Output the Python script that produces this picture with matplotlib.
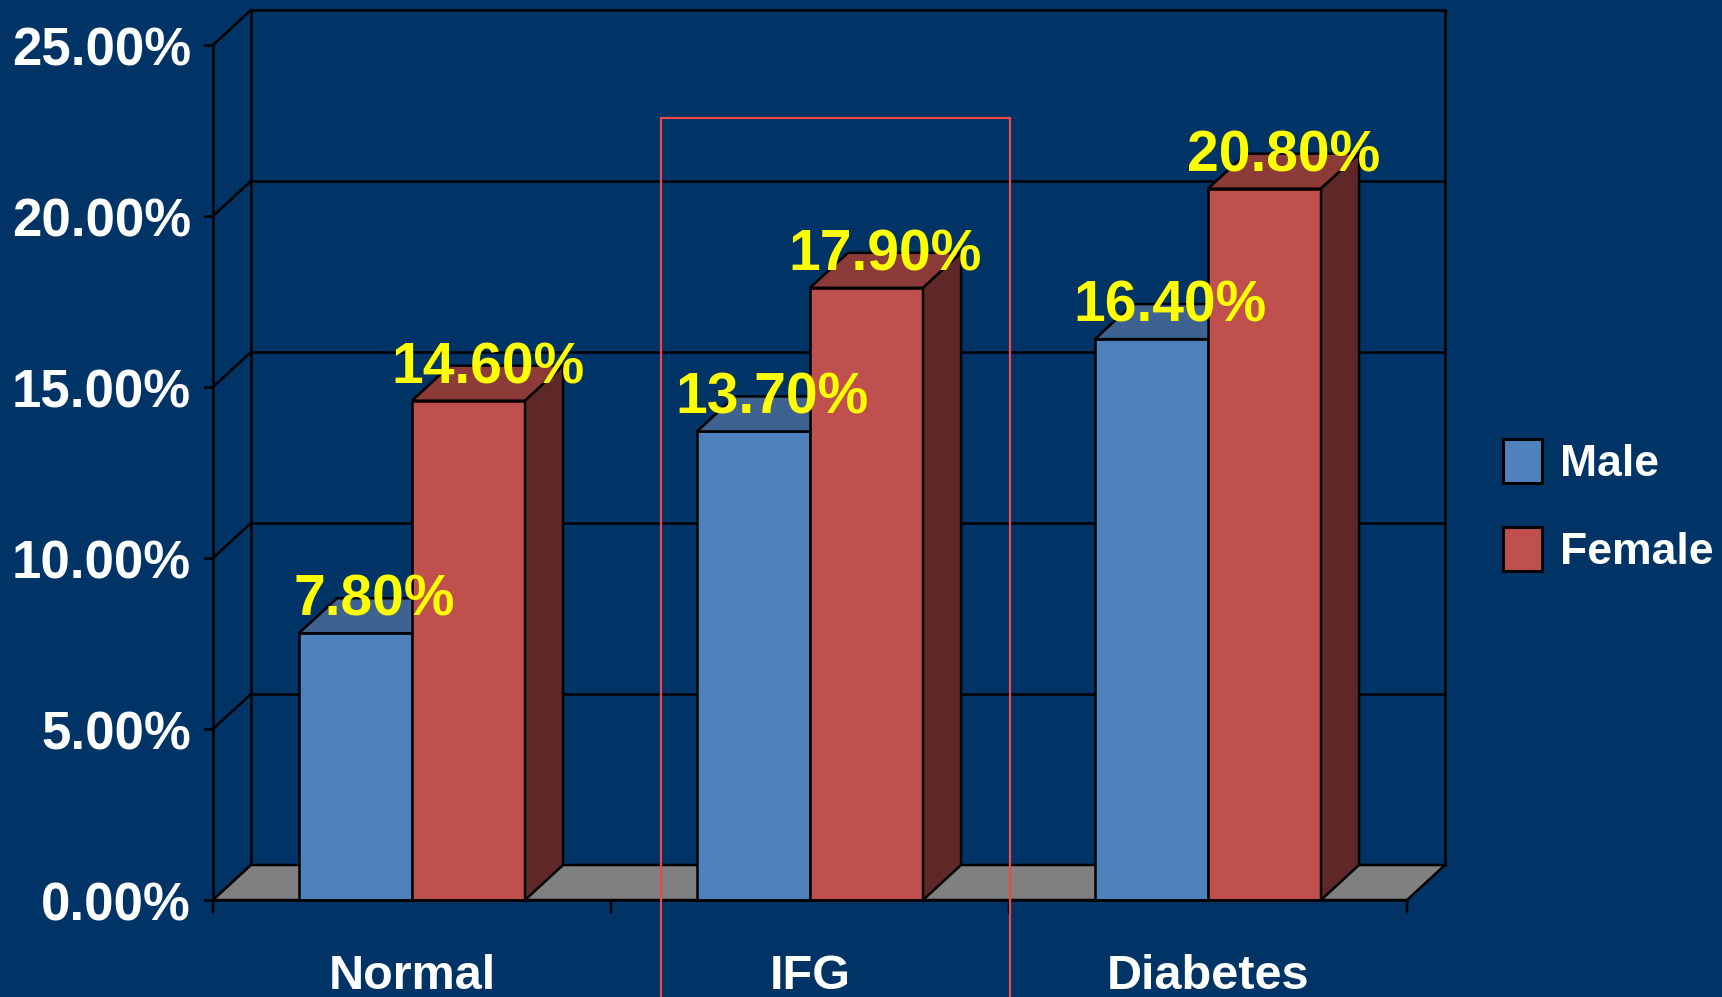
import matplotlib.pyplot as plt
from matplotlib.patches import Polygon, Rectangle, Patch

# data
categories = ['Normal', 'IFG', 'Diabetes']
male = [7.8, 13.7, 16.4]
female = [14.6, 17.9, 20.8]
series_names = ['Male', 'Female']
yticks = [0, 5, 10, 15, 20, 25]

# colours
bg = '#003366'
male_front, male_top = '#4F81BD', '#3E6390'
fem_front, fem_top, fem_side = '#C0504D', '#8C3B39', '#5E2828'
floor_col = '#808080'
lw = 1.8

plt.rcParams['font.family'] = ['Liberation Sans', 'DejaVu Sans']
plt.rcParams['font.weight'] = 'bold'

fig = plt.figure(figsize=(17.22, 9.97), dpi=100, facecolor=bg)
ax = fig.add_axes([213 / 1722, 97 / 997, 1194 / 1722, 855 / 997])
ax.set_xlim(-0.5, 2.5)
ax.set_ylim(0, 25)
ax.axis('off')

# fake 3d depth in data units
DX = 38 / 398
DY = 35 / 34.2
bw = 0.284  # bar width


def poly(pts, fc, z, ec='black'):
    ax.add_patch(Polygon(pts, closed=True, facecolor=fc, edgecolor=ec,
                         lw=lw, zorder=z, clip_on=False, joinstyle='miter'))


def line(xs, ys, z=1, **kw):
    ax.plot(xs, ys, color='black', lw=lw, zorder=z, clip_on=False,
            solid_capstyle='projecting', **kw)


x0, x1 = -0.5, len(categories) - 0.5

# back wall grid + side wall
for t in yticks:
    line([x0 + DX, x1 + DX], [t + DY, t + DY])
    line([x0, x0 + DX], [t, t + DY])
    line([x0 - 0.02, x0], [t, t])
line([x0 + DX, x0 + DX], [DY, yticks[-1] + DY])
line([x1 + DX, x1 + DX], [DY, yticks[-1] + DY])
line([x0, x0], [0, yticks[-1]])

# floor
poly([(x0, 0), (x1, 0), (x1 + DX, DY), (x0 + DX, DY)], floor_col, 2)

# bars
for i, (m, f) in enumerate(zip(male, female)):
    for j, (v, front, top) in enumerate([(m, male_front, male_top),
                                          (f, fem_front, fem_top)]):
        left = i - bw + j * bw
        right = left + bw
        z = 3 + j
        poly([(left, 0), (right, 0), (right, v), (left, v)], front, z)
        poly([(left, v), (right, v), (right + DX, v + DY), (left + DX, v + DY)], top, z)
        if j == 1:
            poly([(right, 0), (right + DX, DY), (right + DX, v + DY), (right, v)], fem_side, z)
        ax.text(left + bw / 2 + DX / 2, v + DY / 2, f'{v:.2f}%', ha='center',
                va='baseline', color='#FFFF00', fontsize=41, fontweight='bold',
                zorder=10, clip_on=False)

# front bottom axis and ticks
line([x0, x1], [0, 0], z=6)
for k in range(len(categories) + 1):
    ax.annotate('', xy=(x0 + k, 0), xytext=(0, -9), textcoords='offset points',
                annotation_clip=False,
                arrowprops=dict(arrowstyle='-', color='black', lw=lw,
                                shrinkA=0, shrinkB=0))

# category labels
for i, c in enumerate(categories):
    ax.annotate(c, xy=(i, 0), xytext=(0, -64), textcoords='offset points',
                ha='center', va='baseline', color='white', fontsize=35,
                fontweight='bold', annotation_clip=False)

# y tick labels
for t in yticks:
    ax.annotate(f'{t:.2f}%', xy=(x0, t), xytext=(-16, -14.5),
                textcoords='offset points', ha='right', va='baseline',
                color='white', fontsize=38, fontweight='bold',
                annotation_clip=False)

# highlight box around IFG
ax.add_patch(Rectangle((0.626, -5), 0.877, 22.87 + 5, fill=False,
                       edgecolor='#F04848', lw=1.6, zorder=12, clip_on=False))

# legend
handles = [Patch(facecolor=male_front, edgecolor='black', lw=2.2, label=series_names[0]),
           Patch(facecolor=fem_front, edgecolor='black', lw=2.2, label=series_names[1])]
leg = ax.legend(handles=handles, loc='center left',
                bbox_to_anchor=(1503 / 1722, 1 - 506 / 997),
                bbox_transform=fig.transFigure, frameon=False,
                prop={'size': 32, 'weight': 'bold'}, labelcolor='white',
                handlelength=0.875, handleheight=1.15, handletextpad=0.4,
                labelspacing=0.93, borderpad=0, borderaxespad=0)

fig.savefig('out.png', dpi=100, facecolor=bg)
